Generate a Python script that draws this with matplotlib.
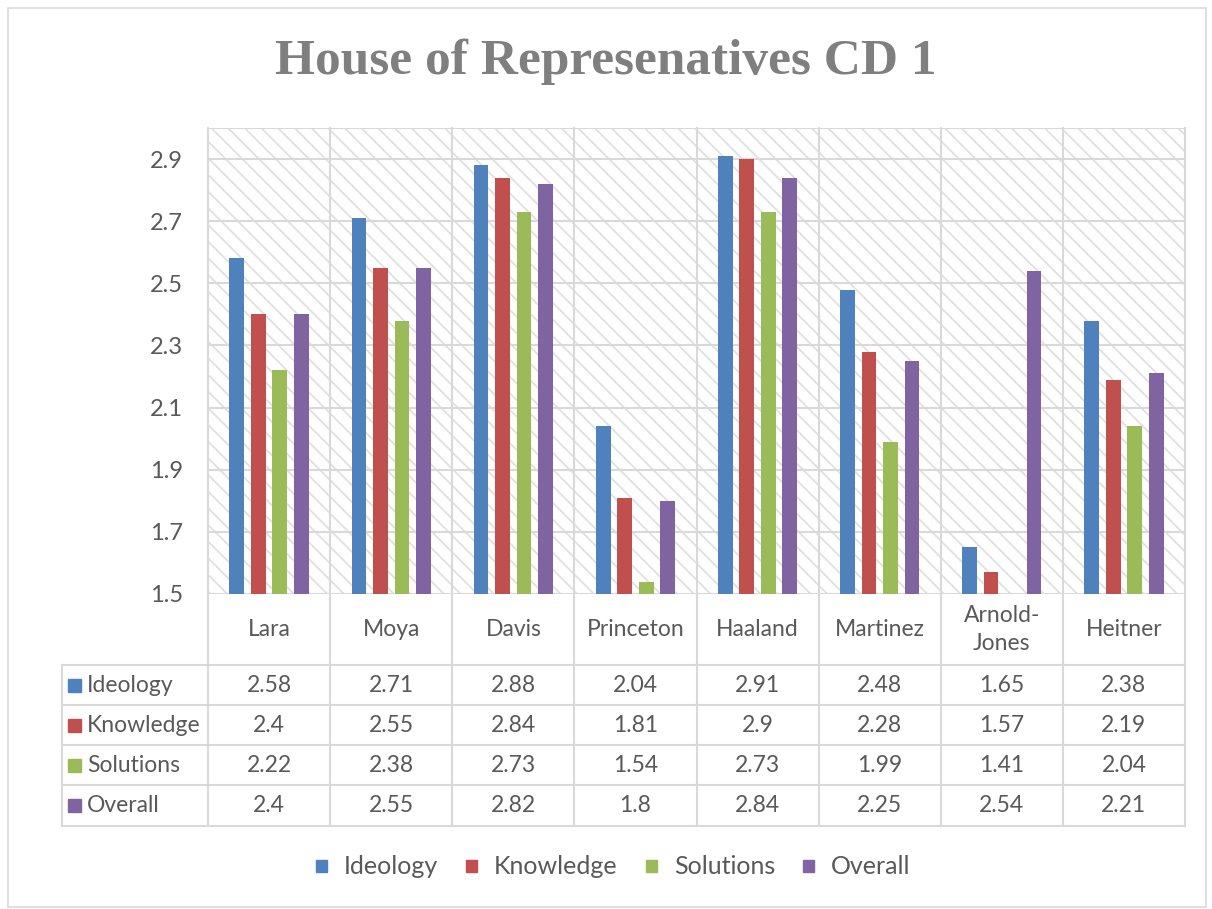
import matplotlib
matplotlib.use("Agg")
import matplotlib.pyplot as plt
import matplotlib.transforms as mtransforms
from matplotlib.patches import Rectangle
import numpy as np

plt.rcParams['font.family'] = ['Lato', 'DejaVu Sans']
plt.rcParams['hatch.linewidth'] = 1.3
plt.rcParams['hatch.color'] = '#e0e0e0'

categories = ["Lara", "Moya", "Davis", "Princeton", "Haaland", "Martinez", "Arnold-\nJones", "Heitner"]
series_names = ["Ideology", "Knowledge", "Solutions", "Overall"]
ideology = [2.58, 2.71, 2.88, 2.04, 2.91, 2.48, 1.65, 2.38]
knowledge = [2.4, 2.55, 2.84, 1.81, 2.9, 2.28, 1.57, 2.19]
solutions = [2.22, 2.38, 2.73, 1.54, 2.73, 1.99, 1.41, 2.04]
overall = [2.4, 2.55, 2.82, 1.8, 2.84, 2.25, 2.54, 2.21]
table_labels = [["2.58", "2.71", "2.88", "2.04", "2.91", "2.48", "1.65", "2.38"],
                ["2.4", "2.55", "2.84", "1.81", "2.9", "2.28", "1.57", "2.19"],
                ["2.22", "2.38", "2.73", "1.54", "2.73", "1.99", "1.41", "2.04"],
                ["2.4", "2.55", "2.82", "1.8", "2.84", "2.25", "2.54", "2.21"]]
yticks = [1.5, 1.7, 1.9, 2.1, 2.3, 2.5, 2.7, 2.9]

series = [ideology, knowledge, solutions, overall]
colors = ['#4F81BD', '#C0504D', '#9BBB59', '#8064A2']
txt = '#595959'
grid = '#d9d9d9'

W, H = 1212, 909
fig = plt.figure(figsize=(W / 100, H / 100), dpi=100)
L, R, T, B = 208, 1185, 128, 594
ax = fig.add_axes([L / W, (H - B) / H, (R - L) / W, (B - T) / H])

ymin, ymax = 1.5, 3.0
n = len(categories)
x = np.arange(n)
ax.set_xlim(-0.5, n - 0.5)
ax.set_ylim(ymin, ymax)

# hatched background
ax.add_patch(Rectangle((0, 0), 1, 1, transform=ax.transAxes, facecolor='white',
                       hatch='\\\\', edgecolor='#e0e0e0', linewidth=0, zorder=0))
ax.set_facecolor('white')

for yv in yticks:
    ax.axhline(yv, color=grid, lw=1.5, zorder=1)
ax.axhline(ymax, color=grid, lw=1.5, zorder=1)

bw = 0.12
step = 0.176
for i, (vals, c) in enumerate(zip(series, colors)):
    off = (i - 1.5) * step
    heights = [v - ymin for v in vals]
    ax.bar(x + off, heights, bw, bottom=ymin, color=c, zorder=3, clip_on=True)

ax.set_yticks(yticks)
ax.set_yticklabels([f"{v:.1f}" for v in yticks], fontsize=17, color=txt)
ax.tick_params(axis='y', length=0, pad=18)
ax.set_xticks([])
for s in ax.spines.values():
    s.set_visible(False)

# table
trans = mtransforms.blended_transform_factory(ax.transData, ax.transAxes)
axh = B - T
def yf(py):
    return (B - py) / axh
left_x = (62 - L) / (R - L)
trans_ax = ax.transAxes

row_edges = [665, 705, 745, 785, 826]

for k in range(n + 1):
    xb = k - 0.5
    ax.plot([xb, xb], [yf(826), 1], transform=trans, color=grid, lw=1.5, clip_on=False, zorder=1)
for py in row_edges:
    ax.plot([left_x, 1], [yf(py), yf(py)], transform=trans_ax, color=grid, lw=1.5, clip_on=False)
ax.plot([left_x, left_x], [yf(665), yf(826)], transform=trans_ax, color=grid, lw=1.5, clip_on=False)

for k, cat in enumerate(categories):
    ax.text(k, yf((594 + 665) / 2), cat, transform=trans, ha='center', va='center',
            fontsize=16.5, color=txt, linespacing=1.4)

for r in range(4):
    yc = yf((row_edges[r] + row_edges[r + 1]) / 2)
    ax.add_patch(Rectangle((left_x + 6 / (R - L), yc - 6.5 / axh), 13 / (R - L), 13 / axh,
                           transform=trans_ax, color=colors[r], clip_on=False))
    ax.text(left_x + 25 / (R - L), yc, series_names[r], transform=trans_ax, ha='left', va='center',
            fontsize=16.5, color=txt)
    for k in range(n):
        ax.text(k, yc, table_labels[r][k], transform=trans, ha='center', va='center',
                fontsize=16.5, color=txt)

# title
fig.text(0.5, (H - 62) / H, "House of Represenatives CD 1", ha='center', va='center',
         fontsize=37, fontweight='bold', color='#7f7f7f', family=['Liberation Serif', 'DejaVu Serif'])

# legend
leg_y = (H - 866) / H
leg_x = [321, 471, 651, 808]
for xx, name, c in zip(leg_x, series_names, colors):
    fig.patches.append(Rectangle(((xx - 5) / W, leg_y - 6 / H), 11 / W, 12 / H,
                                 transform=fig.transFigure, color=c, figure=fig))
    fig.text((xx + 23) / W, leg_y, name, ha='left', va='center', fontsize=18, color=txt)

# chart border
fig.patches.append(Rectangle((8 / W, 2 / H), (W - 14) / W, (H - 10) / H, transform=fig.transFigure,
                             fill=False, edgecolor='#d9d9d9', lw=1.2, figure=fig))

fig.savefig("out.png", dpi=100)
